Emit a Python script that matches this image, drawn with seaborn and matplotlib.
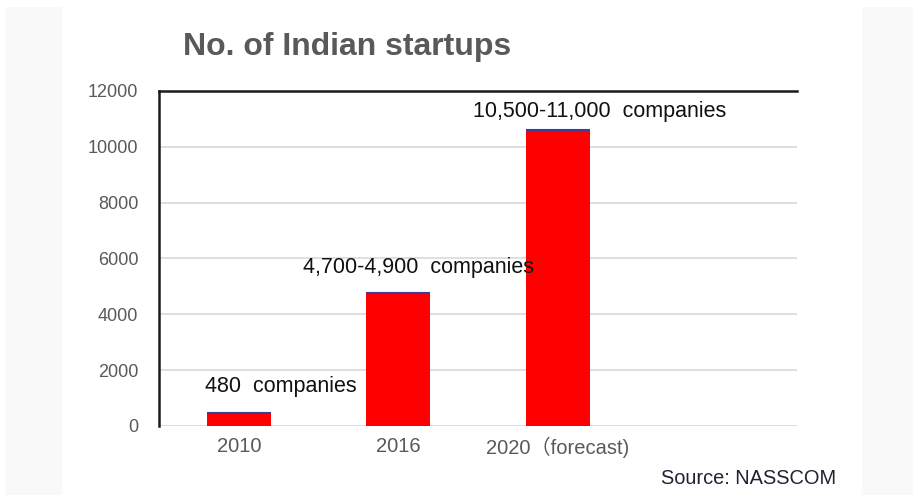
import matplotlib
matplotlib.use("Agg")
import matplotlib.pyplot as plt
from matplotlib.patches import Rectangle
import seaborn as sns
import pandas as pd

# Data
years = ["2010", "2016", "2020（forecast)", ""]
startups = [480, 4770, 10600, 0]
bar_labels = ["480  companies", "4,700-4,900  companies", "10,500-11,000  companies"]
label_x = [-0.2125, 0.40, 1.47]
label_y = [1400, 5660, 11250]
y_ticks = [0, 2000, 4000, 6000, 8000, 10000, 12000]

sns.set_theme(style="white")
plt.rcParams["font.family"] = ["Liberation Sans", "Noto Sans CJK JP", "DejaVu Sans"]

df = pd.DataFrame({"year": years, "count": startups})

fig = plt.figure(figsize=(9.13, 4.95), dpi=100)
fig.patch.set_facecolor("white")

# faint side panels of the page background
fig.patches.append(Rectangle((0.006, 0.0), 0.062, 0.985, transform=fig.transFigure,
                             facecolor="#f9f9f9", edgecolor="none", zorder=0))
fig.patches.append(Rectangle((0.944, 0.0), 0.056, 0.985, transform=fig.transFigure,
                             facecolor="#f9f9f9", edgecolor="none", zorder=0))

ax = fig.add_axes([0.1742, 0.1394, 0.6988, 0.6768])
ax.set_facecolor("white")

sns.barplot(data=df, x="year", y="count", order=years, color="#ff0000",
            saturation=1, width=0.4, ax=ax, zorder=3, edgecolor="none")

# thin dark-blue cap on each bar
for p in ax.patches:
    h = p.get_height()
    if h > 0:
        ax.plot([p.get_x(), p.get_x() + p.get_width()], [h, h],
                color="#3c3c9a", lw=1.5, zorder=4, solid_capstyle="butt")

ax.set_xlim(-0.5, 3.5)
ax.set_ylim(0, 12000)
ax.set_yticks(y_ticks)
ax.set_yticklabels([str(t) for t in y_ticks])
ax.yaxis.grid(True, color="#d9d9d9", lw=1.2, zorder=0)
ax.set_axisbelow(True)

for side in ["right", "bottom"]:
    ax.spines[side].set_visible(False)
for side in ["left", "top"]:
    ax.spines[side].set_color("#1a1a1a")
    ax.spines[side].set_linewidth(1.8)

ax.tick_params(axis="y", length=0, pad=15, labelsize=13, labelcolor="#595959")
ax.tick_params(axis="x", length=0, pad=8, labelsize=14.5, labelcolor="#595959")
ax.set_xlabel("")
ax.set_ylabel("")

for txt, lx, ly in zip(bar_labels, label_x, label_y):
    ax.text(lx, ly, txt, ha="left", va="center", fontsize=15.5,
            color="#111111", zorder=5)

fig.text(0.2, 0.905, "No. of Indian startups", fontsize=23, fontweight="bold",
         color="#595959", ha="left", va="center")
fig.text(0.9157, 0.034, "Source: NASSCOM", fontsize=14.4, color="#222233",
         ha="right", va="center")

fig.savefig("out.png", dpi=100)
